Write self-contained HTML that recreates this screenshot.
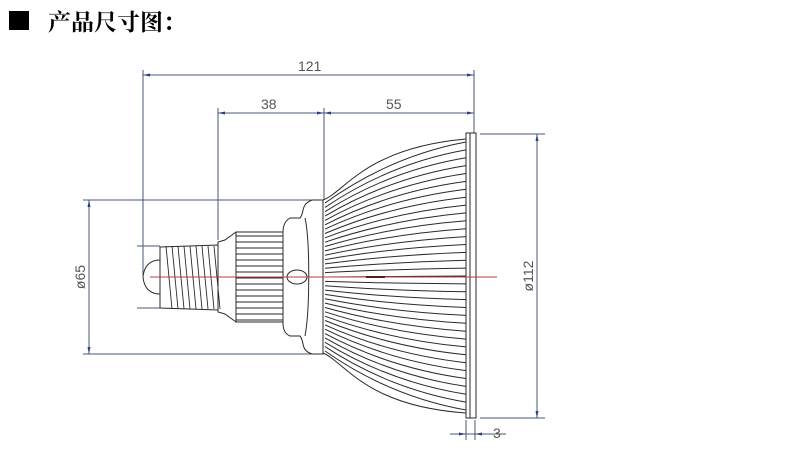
<!DOCTYPE html>
<html><head><meta charset="utf-8"><style>
html,body{margin:0;padding:0;background:#fff;width:793px;height:472px;overflow:hidden}
svg{display:block}
</style></head><body>
<svg id="s" width="793" height="472" viewBox="0 0 793 472" xmlns="http://www.w3.org/2000/svg">
<rect x="9" y="11" width="20" height="19" fill="#000"/>
<text x="48" y="30" font-family="'Liberation Serif','Noto Serif CJK SC',serif" font-size="23" font-weight="bold" fill="#000">产品尺寸图：</text>
<g stroke="#4a5a78" stroke-width="1" fill="none">
<line x1="143" y1="75" x2="474" y2="75"/>
<line x1="143" y1="70" x2="143" y2="275"/>
<line x1="474" y1="70" x2="474" y2="135"/>
<line x1="218" y1="113" x2="474" y2="113"/>
<line x1="218" y1="108" x2="218" y2="240"/>
<line x1="324" y1="108" x2="324" y2="200"/>
<line x1="89" y1="200" x2="89" y2="354"/>
<line x1="83" y1="200" x2="323" y2="200"/>
<line x1="83" y1="354" x2="323" y2="354"/>
<line x1="137" y1="246" x2="160" y2="246"/>
<line x1="137" y1="308" x2="160" y2="308"/>
<line x1="537" y1="134" x2="537" y2="418"/>
<line x1="480" y1="134" x2="545" y2="134"/>
<line x1="480" y1="418" x2="545" y2="418"/>
<line x1="466" y1="420" x2="466" y2="440"/>
<line x1="475" y1="420" x2="475" y2="440"/>
<line x1="450" y1="434" x2="506" y2="434"/>
</g>
<g fill="#2a3f80">
<polygon points="143,75 150,73.5 150,76.5"/><polygon points="474,75 467,73.5 467,76.5"/>
<polygon points="218,113 225,111.5 225,114.5"/><polygon points="324,113 317,111.5 317,114.5"/><polygon points="324,113 331,111.5 331,114.5"/><polygon points="474,113 467,111.5 467,114.5"/>
<polygon points="89,200 87.5,207 90.5,207"/><polygon points="89,354 87.5,347 90.5,347"/>
<polygon points="537,134 535.5,141 538.5,141"/><polygon points="537,418 535.5,411 538.5,411"/>
<polygon points="466,434 459,432.5 459,435.5"/><polygon points="475,434 482,432.5 482,435.5"/>
</g>
<g font-family="'Liberation Sans',sans-serif" font-size="14" fill="#555">
<text x="298" y="71">121</text>
<text x="261" y="109">38</text>
<text x="386" y="109">55</text>
<text x="493" y="438">3</text>
<text transform="translate(85,277) rotate(-90)" text-anchor="middle">ø65</text>
<text transform="translate(533,276) rotate(-90)" text-anchor="middle">ø112</text>
</g>
<g id="bulb" stroke="#2a2a2a" stroke-width="1" fill="none">
<rect x="466" y="133" width="10" height="285" fill="#fff"/>
<line x1="470" y1="133" x2="470" y2="418"/>
<path d="M323,200 C345,192 365,148 466,139"/>
<path d="M323,353 C345,362 365,406 466,413"/>
<path d="M323,200 L312,200 C300,205 305,212 300,218 L290,218 C283,222 283,230 283,232 L283,322 C283,326 283,333 290,336 L300,336 C305,342 300,350 312,354 L323,354 Z" fill="#fff"/>
<line x1="323" y1="200" x2="323" y2="354"/>
<path d="M305,218 C310,240 310,310 305,336"/>
<rect x="236" y="232" width="47" height="90" fill="#fff"/>
<path d="M236,232 L225,240 L218,242 L218,312 L225,314 L236,322"/>
<path d="M160,247 L218,245 L218,310 L160,308 Z" fill="#fff"/>
<path d="M160,260 C150,260 144,266 143,277 C144,288 150,294 160,294"/>
<ellipse cx="297" cy="277" rx="10" ry="7" fill="#fff"/>
</g>
<line x1="150" y1="277" x2="497" y2="277" stroke="#b04040" stroke-width="1"/>
<line x1="366" y1="277" x2="385" y2="277" stroke="#5a1a1a" stroke-width="2"/>
<script>
var s=document.getElementById('bulb'),ns='http://www.w3.org/2000/svg';
function L(d,w){var p=document.createElementNS(ns,'path');p.setAttribute('d',d);p.setAttribute('stroke-width',w||1);s.appendChild(p);}
var n=34;
for(var i=0;i<=n;i++){var t=i/n;var y0=203+t*148;var y1=142+t*268;
var cy=(y0+y1)/2+(y1-277)*0.12;
L('M325,'+y0.toFixed(1)+' Q390,'+cy.toFixed(1)+' 466,'+y1.toFixed(1),1);}
for(var y=236;y<322;y+=6){L('M236,'+y+' L283,'+y,0.9);}
for(var x=166;x<218;x+=6){L('M'+x+',246 L'+(x+6)+',309',0.9);}
</script>
</svg>
</body></html>
